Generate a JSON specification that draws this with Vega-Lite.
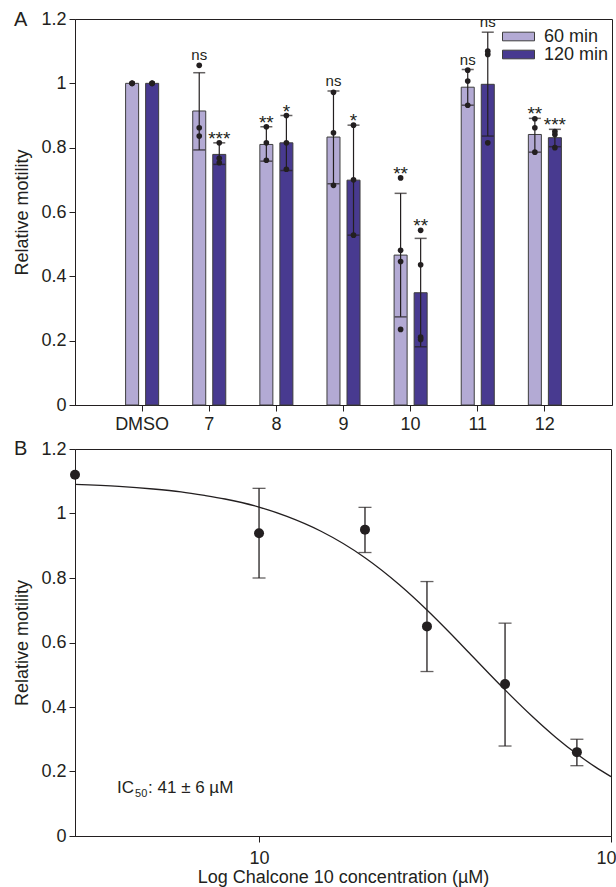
{
  "$schema": "https://vega.github.io/schema/vega-lite/v6.json",
  "padding": {"left": 13, "top": 9, "right": 0, "bottom": 0},
  "background": "white",
  "config": {
    "font": "Liberation Sans",
    "view": {"stroke": "#231f20", "strokeWidth": 1},
    "axis": {
      "domainColor": "#231f20", "tickColor": "#231f20", "labelColor": "#231f20", "titleColor": "#231f20",
      "labelFontSize": 18, "titleFontSize": 18, "titleFontWeight": "normal", "tickSize": 6, "grid": false,
      "labelFont": "Liberation Sans", "titleFont": "Liberation Sans", "domainWidth": 1, "tickWidth": 1
    },
    "title": {"fontSize": 20, "fontWeight": "normal", "anchor": "start", "frame": "bounds", "color": "#231f20", "font": "Liberation Sans"}
  },
  "resolve": {"legend": {"color": "independent"}, "scale": {"color": "independent", "x": "independent", "y": "independent"}},
  "datasets": {
    "bars": [
      {"group": "DMSO", "time": "60 min", "mean": 1.0},
      {"group": "DMSO", "time": "120 min", "mean": 1.0},
      {"group": "7", "time": "60 min", "mean": 0.914, "lo": 0.793, "hi": 1.033, "peak": 1.056, "sig": "ns"},
      {"group": "7", "time": "120 min", "mean": 0.779, "lo": 0.748, "hi": 0.815, "peak": 0.815, "sig": "***"},
      {"group": "8", "time": "60 min", "mean": 0.810, "lo": 0.758, "hi": 0.865, "peak": 0.865, "sig": "**"},
      {"group": "8", "time": "120 min", "mean": 0.815, "lo": 0.729, "hi": 0.900, "peak": 0.900, "sig": "*"},
      {"group": "9", "time": "60 min", "mean": 0.833, "lo": 0.688, "hi": 0.976, "peak": 0.976, "sig": "ns"},
      {"group": "9", "time": "120 min", "mean": 0.699, "lo": 0.528, "hi": 0.870, "peak": 0.870, "sig": "*"},
      {"group": "10", "time": "60 min", "mean": 0.466, "lo": 0.274, "hi": 0.658, "peak": 0.706, "sig": "**"},
      {"group": "10", "time": "120 min", "mean": 0.349, "lo": 0.181, "hi": 0.518, "peak": 0.543, "sig": "**"},
      {"group": "11", "time": "60 min", "mean": 0.988, "lo": 0.932, "hi": 1.043, "peak": 1.043, "sig": "ns"},
      {"group": "11", "time": "120 min", "mean": 0.997, "lo": 0.836, "hi": 1.159, "peak": 1.159, "sig": "ns"},
      {"group": "12", "time": "60 min", "mean": 0.841, "lo": 0.786, "hi": 0.891, "peak": 0.891, "sig": "**"},
      {"group": "12", "time": "120 min", "mean": 0.831, "lo": 0.803, "hi": 0.857, "peak": 0.857, "sig": "***"}
    ],
    "pts": [
      {"group": "DMSO", "time": "60 min", "value": 1.0},
      {"group": "DMSO", "time": "60 min", "value": 1.0},
      {"group": "DMSO", "time": "60 min", "value": 1.0},
      {"group": "DMSO", "time": "120 min", "value": 1.0},
      {"group": "DMSO", "time": "120 min", "value": 1.0},
      {"group": "DMSO", "time": "120 min", "value": 1.0},
      {"group": "7", "time": "60 min", "value": 1.056},
      {"group": "7", "time": "60 min", "value": 0.862},
      {"group": "7", "time": "60 min", "value": 0.836},
      {"group": "7", "time": "120 min", "value": 0.815},
      {"group": "7", "time": "120 min", "value": 0.767},
      {"group": "7", "time": "120 min", "value": 0.753},
      {"group": "8", "time": "60 min", "value": 0.865},
      {"group": "8", "time": "60 min", "value": 0.815},
      {"group": "8", "time": "60 min", "value": 0.761},
      {"group": "8", "time": "120 min", "value": 0.900},
      {"group": "8", "time": "120 min", "value": 0.815},
      {"group": "8", "time": "120 min", "value": 0.733},
      {"group": "9", "time": "60 min", "value": 0.972},
      {"group": "9", "time": "60 min", "value": 0.846},
      {"group": "9", "time": "60 min", "value": 0.683},
      {"group": "9", "time": "120 min", "value": 0.870},
      {"group": "9", "time": "120 min", "value": 0.700},
      {"group": "9", "time": "120 min", "value": 0.528},
      {"group": "10", "time": "60 min", "value": 0.706},
      {"group": "10", "time": "60 min", "value": 0.481},
      {"group": "10", "time": "60 min", "value": 0.446},
      {"group": "10", "time": "60 min", "value": 0.235},
      {"group": "10", "time": "120 min", "value": 0.543},
      {"group": "10", "time": "120 min", "value": 0.436},
      {"group": "10", "time": "120 min", "value": 0.211},
      {"group": "10", "time": "120 min", "value": 0.204},
      {"group": "11", "time": "60 min", "value": 1.041},
      {"group": "11", "time": "60 min", "value": 1.007},
      {"group": "11", "time": "60 min", "value": 0.932},
      {"group": "11", "time": "120 min", "value": 1.100},
      {"group": "11", "time": "120 min", "value": 1.090},
      {"group": "11", "time": "120 min", "value": 0.815},
      {"group": "12", "time": "60 min", "value": 0.890},
      {"group": "12", "time": "60 min", "value": 0.862},
      {"group": "12", "time": "60 min", "value": 0.786},
      {"group": "12", "time": "120 min", "value": 0.850},
      {"group": "12", "time": "120 min", "value": 0.841},
      {"group": "12", "time": "120 min", "value": 0.800}
    ],
    "dose": [
      {"conc": 3, "mean": 1.120},
      {"conc": 10, "mean": 0.939, "lo": 0.800, "hi": 1.078},
      {"conc": 20, "mean": 0.950, "lo": 0.879, "hi": 1.019},
      {"conc": 30, "mean": 0.650, "lo": 0.510, "hi": 0.789},
      {"conc": 50, "mean": 0.471, "lo": 0.279, "hi": 0.660},
      {"conc": 80, "mean": 0.260, "lo": 0.218, "hi": 0.300}
    ],
    "curve": [
      {"conc": 3, "v": 1.090},
      {"conc": 4, "v": 1.084},
      {"conc": 5, "v": 1.076},
      {"conc": 6, "v": 1.067},
      {"conc": 7, "v": 1.056},
      {"conc": 8, "v": 1.045},
      {"conc": 10, "v": 1.020},
      {"conc": 12, "v": 0.991},
      {"conc": 15, "v": 0.945},
      {"conc": 20, "v": 0.863},
      {"conc": 25, "v": 0.780},
      {"conc": 30, "v": 0.701},
      {"conc": 35, "v": 0.628},
      {"conc": 40, "v": 0.562},
      {"conc": 45, "v": 0.504},
      {"conc": 50, "v": 0.453},
      {"conc": 60, "v": 0.369},
      {"conc": 70, "v": 0.304},
      {"conc": 80, "v": 0.254},
      {"conc": 90, "v": 0.215},
      {"conc": 100, "v": 0.184}
    ],
    "note": [{"conc": 3.95, "v": 0.1335}]
  },
  "spacing": 4,
  "vconcat": [
    {
      "title": {"text": "A", "offset": -36, "baseline": "alphabetic"},
      "width": 537,
      "height": 386,
      "encoding": {
        "x": {
          "field": "group", "type": "nominal", "sort": null,
          "scale": {"domain": ["DMSO", "7", "8", "9", "10", "11", "12"], "paddingInner": 0, "paddingOuter": 0.5},
          "axis": {"title": null, "labelAngle": 0, "labelPadding": 4}
        },
        "xOffset": {
          "field": "time", "type": "nominal", "sort": null,
          "scale": {"domain": ["60 min", "120 min"], "paddingInner": 0.35, "paddingOuter": 0.85}
        }
      },
      "layer": [
        {
          "data": {"name": "bars"},
          "mark": {"type": "bar", "stroke": "#3d3d3d", "strokeWidth": 1},
          "encoding": {
            "y": {
              "field": "mean", "type": "quantitative",
              "scale": {"domain": [0, 1.2], "nice": false},
              "axis": {"title": "Relative motility", "values": [0, 0.2, 0.4, 0.6, 0.8, 1, 1.2], "format": "~g", "titlePadding": 9, "labelPadding": 3}
            },
            "color": {
              "field": "time", "type": "nominal", "sort": null,
              "scale": {"domain": ["60 min", "120 min"], "range": ["#b3aad4", "#483a90"]},
              "legend": {
                "title": null, "orient": "none", "legendX": 434.5, "legendY": 8.5, "padding": 0, "rowPadding": 0,
                "symbolType": "M-2,-0.54H2V0.54H-2Z", "symbolSize": 256,
                "symbolStrokeColor": "#3d3d3d", "symbolStrokeWidth": 1, "symbolOpacity": 1,
                "labelFontSize": 18, "labelColor": "#231f20", "labelOffset": 16.5, "labelFont": "Liberation Sans"
              }
            }
          }
        },
        {
          "data": {"name": "bars"},
          "transform": [{"filter": "isValid(datum.lo)"}],
          "mark": {"type": "rule", "color": "#231f20", "strokeWidth": 1.2},
          "encoding": {"y": {"field": "lo", "type": "quantitative"}, "y2": {"field": "hi"}}
        },
        {
          "data": {"name": "bars"},
          "transform": [{"filter": "isValid(datum.lo)"}],
          "mark": {"type": "tick", "color": "#231f20", "size": 12, "thickness": 1.5},
          "encoding": {"y": {"field": "lo", "type": "quantitative"}}
        },
        {
          "data": {"name": "bars"},
          "transform": [{"filter": "isValid(datum.hi)"}],
          "mark": {"type": "tick", "color": "#231f20", "size": 12, "thickness": 1.5},
          "encoding": {"y": {"field": "hi", "type": "quantitative"}}
        },
        {
          "data": {"name": "pts"},
          "mark": {"type": "circle", "color": "#231f20", "opacity": 1, "size": 32},
          "encoding": {"y": {"field": "value", "type": "quantitative"}}
        },
        {
          "data": {"name": "bars"},
          "transform": [{"filter": "datum.sig == 'ns'"}],
          "mark": {"type": "text", "fontSize": 15, "color": "#231f20", "baseline": "alphabetic", "dy": -5},
          "encoding": {"y": {"field": "peak", "type": "quantitative"}, "text": {"field": "sig"}}
        },
        {
          "data": {"name": "bars"},
          "transform": [{"filter": "isValid(datum.sig) && datum.sig != 'ns'"}],
          "mark": {"type": "text", "fontSize": 19, "color": "#231f20", "baseline": "alphabetic", "dy": 2},
          "encoding": {"y": {"field": "peak", "type": "quantitative"}, "text": {"field": "sig"}}
        }
      ]
    },
    {
      "title": {"text": "B", "offset": -35, "baseline": "alphabetic"},
      "width": 536,
      "height": 387,
      "encoding": {
        "x": {
          "field": "conc", "type": "quantitative",
          "scale": {"type": "log", "domain": [3, 100], "nice": false},
          "axis": {"title": "Log Chalcone 10 concentration (µM)", "values": [10, 100], "labelExpr": "datum.value", "labelPadding": 7, "titlePadding": 1, "labelFlush": false}
        }
      },
      "layer": [
        {
          "data": {"name": "curve"},
          "mark": {"type": "line", "color": "#231f20", "strokeWidth": 1.3, "interpolate": "monotone"},
          "encoding": {
            "y": {
              "field": "v", "type": "quantitative",
              "scale": {"domain": [0, 1.2], "nice": false},
              "axis": {"title": "Relative motility", "values": [0, 0.2, 0.4, 0.6, 0.8, 1, 1.2], "format": "~g", "titlePadding": 9, "labelPadding": 3}
            }
          }
        },
        {
          "data": {"name": "dose"},
          "transform": [{"filter": "isValid(datum.lo)"}],
          "mark": {"type": "rule", "color": "#231f20", "strokeWidth": 1.3},
          "encoding": {"y": {"field": "lo", "type": "quantitative"}, "y2": {"field": "hi"}}
        },
        {
          "data": {"name": "dose"},
          "transform": [{"filter": "isValid(datum.lo)"}],
          "mark": {"type": "tick", "orient": "horizontal", "color": "#231f20", "size": 13, "thickness": 1.3},
          "encoding": {"y": {"field": "lo", "type": "quantitative"}}
        },
        {
          "data": {"name": "dose"},
          "transform": [{"filter": "isValid(datum.hi)"}],
          "mark": {"type": "tick", "orient": "horizontal", "color": "#231f20", "size": 13, "thickness": 1.3},
          "encoding": {"y": {"field": "hi", "type": "quantitative"}}
        },
        {
          "data": {"name": "dose"},
          "mark": {"type": "circle", "color": "#231f20", "opacity": 1, "size": 100},
          "encoding": {"y": {"field": "mean", "type": "quantitative"}}
        },
        {
          "data": {"name": "note"},
          "mark": {"type": "text", "text": "IC", "fontSize": 17, "color": "#231f20", "align": "left", "baseline": "alphabetic"},
          "encoding": {"y": {"field": "v", "type": "quantitative"}}
        },
        {
          "data": {"name": "note"},
          "mark": {"type": "text", "text": "50", "fontSize": 11, "color": "#231f20", "align": "left", "baseline": "alphabetic", "dx": 18, "dy": 4},
          "encoding": {"y": {"field": "v", "type": "quantitative"}}
        },
        {
          "data": {"name": "note"},
          "mark": {"type": "text", "text": ": 41 ± 6 µM", "fontSize": 17, "color": "#231f20", "align": "left", "baseline": "alphabetic", "dx": 31},
          "encoding": {"y": {"field": "v", "type": "quantitative"}}
        }
      ]
    }
  ]
}
